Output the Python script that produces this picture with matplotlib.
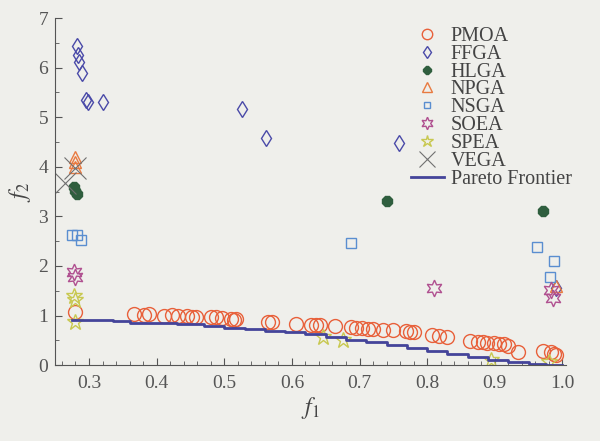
import matplotlib
matplotlib.use("Agg")
import matplotlib.pyplot as plt
import numpy as np
from matplotlib.ticker import MultipleLocator

plt.rcParams["font.family"] = ["Liberation Serif", "DejaVu Serif"]
plt.rcParams["mathtext.fontset"] = "stix"

# ---- data ----
pmoa_x = [0.279, 0.367, 0.382, 0.389, 0.411, 0.422, 0.431, 0.445, 0.452, 0.458,
          0.480, 0.488, 0.497, 0.510, 0.514, 0.518, 0.565, 0.570, 0.606, 0.628,
          0.636, 0.642, 0.664, 0.687, 0.695, 0.703, 0.712, 0.720, 0.734, 0.749,
          0.768, 0.774, 0.781, 0.807, 0.818, 0.829, 0.863, 0.875, 0.882, 0.889,
          0.899, 0.906, 0.913, 0.920, 0.935, 0.972, 0.983, 0.988, 0.990]
pmoa_y = [1.08, 1.04, 1.02, 1.03, 1.00, 1.01, 1.00, 0.99, 0.98, 0.97,
          0.97, 0.98, 0.96, 0.93, 0.92, 0.94, 0.88, 0.87, 0.82, 0.80,
          0.80, 0.81, 0.78, 0.77, 0.75, 0.74, 0.73, 0.72, 0.71, 0.70,
          0.68, 0.67, 0.67, 0.60, 0.58, 0.57, 0.48, 0.47, 0.46, 0.45,
          0.44, 0.43, 0.42, 0.38, 0.26, 0.28, 0.26, 0.22, 0.20]

ffga_x = [0.282, 0.284, 0.285, 0.290, 0.295, 0.298, 0.320, 0.526, 0.562, 0.759, 0.990]
ffga_y = [6.44, 6.25, 6.11, 5.89, 5.35, 5.30, 5.30, 5.17, 4.58, 4.48, 1.55]

hlga_x = [0.278, 0.280, 0.282, 0.740, 0.972]
hlga_y = [3.60, 3.52, 3.46, 3.31, 3.10]

npga_x = [0.279, 0.279, 0.279, 0.990]
npga_y = [4.20, 4.10, 4.00, 1.60]

nsga_x = [0.275, 0.282, 0.288, 0.687, 0.963, 0.988, 0.981]
nsga_y = [2.62, 2.62, 2.52, 2.46, 2.38, 2.10, 1.77]

soea_x = [0.278, 0.279, 0.810, 0.983, 0.986]
soea_y = [1.88, 1.78, 1.55, 1.51, 1.35]

spea_x = [0.278, 0.279, 0.279, 0.646, 0.675, 0.895, 0.980]
spea_y = [1.40, 1.32, 0.88, 0.56, 0.50, 0.10, 0.06]

vega_x = [0.265, 0.279]
vega_y = [3.67, 3.97]

front_x = [0.275, 0.335, 0.36, 0.40, 0.43, 0.47, 0.50, 0.53, 0.56, 0.59, 0.62,
           0.65, 0.68, 0.71, 0.74, 0.77, 0.80, 0.83, 0.86, 0.89, 0.92, 0.95,
           0.975, 1.0]
front_y = [0.92, 0.89, 0.86, 0.84, 0.82, 0.78, 0.75, 0.72, 0.69, 0.66, 0.62,
           0.57, 0.51, 0.46, 0.41, 0.35, 0.29, 0.23, 0.17, 0.11, 0.06, 0.03,
           0.01, 0.0]

bg = "#efefeb"
fig = plt.figure(figsize=(6.0, 4.41), dpi=100, facecolor=bg)
ax = fig.add_axes([0.092, 0.172, 0.851, 0.787], facecolor=bg)

ax.plot(pmoa_x, pmoa_y, "o", ms=10, mfc="none", mec="#e8603a", mew=1.0, label="PMOA")
ax.plot(ffga_x, ffga_y, "d", ms=8.5, mfc="none", mec="#4a4aa8", mew=1.0, label="FFGA")
ax.plot(hlga_x, hlga_y, "8", ms=7.5, mfc="#2f5e3e", mec="#2f5e3e", label="HLGA")
ax.plot(npga_x, npga_y, "^", ms=9, mfc="none", mec="#e87a40", mew=1.0, label="NPGA")
ax.plot(nsga_x, nsga_y, "s", ms=6.5, mfc="none", mec="#5a8ed0", mew=1.0, label="NSGA")
ax.plot(soea_x, soea_y, marker=(6, 1, 0), ls="none", ms=12, mfc="none",
        mec="#b05090", mew=1.0, label="SOEA")
ax.plot(spea_x, spea_y, "*", ms=12, mfc="none", mec="#c8c850", mew=1.0, label="SPEA")
ax.plot(vega_x, vega_y, "x", ms=16, mec="#707070", mew=0.8, label="VEGA")
ax.step(front_x, front_y, where="post", color="#44449a", lw=2, label="Pareto Frontier")

ax.set_xlim(0.25, 1.005)
ax.set_ylim(0, 7)
ax.xaxis.set_major_locator(MultipleLocator(0.1))
ax.xaxis.set_minor_locator(MultipleLocator(0.02))
ax.yaxis.set_major_locator(MultipleLocator(1))
ax.yaxis.set_minor_locator(MultipleLocator(0.5))
ax.set_xticks([0.3, 0.4, 0.5, 0.6, 0.7, 0.8, 0.9, 1.0])
ax.set_xticklabels(["0.3", "0.4", "0.5", "0.6", "0.7", "0.8", "0.9", "1.0"])

for s in ["top", "right"]:
    ax.spines[s].set_visible(False)
for s in ["left", "bottom"]:
    ax.spines[s].set_color("#555555")
ax.tick_params(which="both", direction="in", colors="#555555", labelsize=14,
               labelcolor="#555555")
ax.tick_params(which="major", length=5)
ax.tick_params(which="minor", length=3)
ax.tick_params(axis="x", pad=7)
ax.tick_params(axis="y", pad=5)

ax.set_xlabel(r"$f_1$", fontsize=17, color="#444444", labelpad=2)
ax.set_ylabel(r"$f_2$", fontsize=17, color="#444444", labelpad=4)

ax.legend(loc="upper right", bbox_to_anchor=(1.035, 1.01), frameon=False,
          fontsize=14.5, labelspacing=-0.06, handlelength=1.6, handletextpad=0.35,
          markerscale=0.75, borderaxespad=0.2, labelcolor="#444444")

plt.savefig("out.png", dpi=100, facecolor=bg)
